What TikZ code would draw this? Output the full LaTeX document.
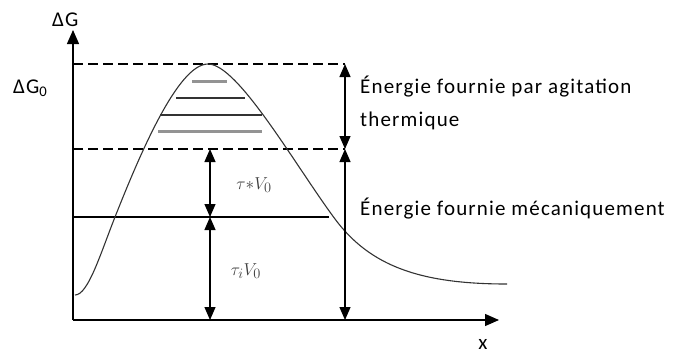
\documentclass[tikz,border=0pt]{standalone}
\usepackage{fontspec}
\setmainfont{Carlito}
\usetikzlibrary{arrows.meta}
\tikzset{
  axis/.style={line width=1.3pt,-{Triangle[length=14pt,width=12pt]}},
  dimarrow/.style={line width=1.2pt,{Triangle[length=13pt,width=11pt]}-{Triangle[length=13pt,width=11pt]}},
  dashline/.style={line width=1.2pt,dash pattern=on 10pt off 5pt},
  levelthick/.style={line width=3pt,gray!85},
  levelthin/.style={line width=1.1pt,black!80},
  lbl/.style={font=\fontsize{21}{25}\selectfont\addfontfeatures{LetterSpace=5.5},inner sep=0pt,anchor=base west},
  mathlbl/.style={font=\fontsize{19}{22}\selectfont,text=black!75,inner sep=0pt},
}
\begin{document}
\begin{tikzpicture}[x=1pt,y=-1pt]
\useasboundingbox (0,0) rectangle (677,354);
% coordinates
\coordinate (O) at (73,320);
\coordinate (Ytip) at (73,30);
\coordinate (Xtip) at (499,320);
\coordinate (t1) at (73,64);
\coordinate (t1r) at (345,64);
\coordinate (t2) at (73,149);
\coordinate (t2r) at (345,149);
\coordinate (s1) at (73,217);
\coordinate (s1r) at (329,217);
\coordinate (bR) at (345,320);
\coordinate (mA) at (210,149);
\coordinate (mB) at (210,217);
\coordinate (mC) at (210,320);
\coordinate (c0) at (75,295);
\coordinate (c1) at (115,217);
\coordinate (c2) at (208,64);
\coordinate (c3) at (335,219);
\coordinate (c4) at (507,284);
% axes
\draw[axis] (O) -- (Ytip);
\draw[axis] (O) -- (Xtip);
% dashed & solid levels
\draw[dashline] (t1) -- (t1r);
\draw[dashline] (t2) -- (t2r);
\draw[line width=1.2pt] (s1) -- (s1r);
% curve
\draw[line width=1.1pt,black!80] (c0) .. controls (88,295) and (100,255) .. (c1)
  .. controls (140,154) and (178,64) .. (c2)
  .. controls (238,64) and (295,165) .. (c3)
  .. controls (370,266) and (420,284) .. (c4);
% energy levels
\draw[levelthick] (192,81) -- (227,81);
\draw[levelthin] (176,98) -- (245,98);
\draw[levelthin] (160,115) -- (262,115);
\draw[levelthick] (158,131) -- (262,131);
% dimension arrows
\draw[dimarrow] (t1r) -- (t2r);
\draw[dimarrow] (t2r) -- (bR);
\draw[dimarrow] (mA) -- (mB);
\draw[dimarrow] (mB) -- (mC);
% labels
\node[lbl] (dG) at (52,26) {ΔG};
\node[lbl] (dG0) at (13,93) {ΔG\textsubscript{0}};
\node[lbl,anchor=center] (xl) at (483,344) {x};
\node[lbl] (e1) at (360,93) {Énergie fournie par agitation};
\node[lbl] (e2) at (360,126) {thermique};
\node[lbl] (e3) at (360,215) {Énergie fournie mécaniquement};
\node[mathlbl] (tau1) at (254,185) {$\tau{*}V_0$};
\node[mathlbl] (tau2) at (246,271) {$\tau_i V_0$};
\end{tikzpicture}
\end{document}
